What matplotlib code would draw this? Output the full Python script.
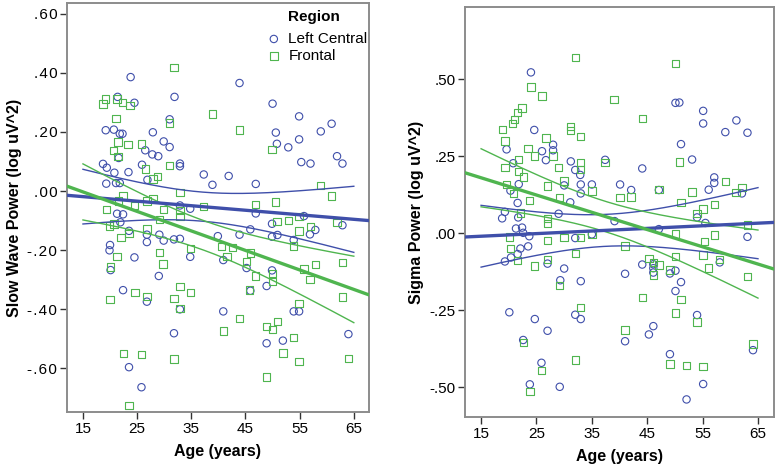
import numpy as np
import matplotlib
matplotlib.use("Agg")
import matplotlib.pyplot as plt

plt.rcParams['font.family'] = ['Liberation Sans', 'DejaVu Sans']

# ---- left panel: slow wave power, (age, value) ----
sw_lc_age = [23.8, 43.9, 31.9, 21.4, 24.5, 50.0, 31.0, 54.9, 19.2, 20.7, 21.8, 22.3, 27.9, 50.6, 58.9,
             60.9, 29.9, 31.0, 50.8, 52.9, 54.9, 26.5, 27.8, 28.9, 21.6, 18.7, 19.4, 20.8, 23.4, 25.9,
             32.9, 32.9, 61.9, 62.9, 55.3, 57.0, 19.3, 21.1, 21.8, 26.9, 37.3, 38.9, 41.9, 46.9,
             21.3, 22.4, 21.9, 32.9, 34.8, 46.9, 55.8, 49.9, 62.9, 45.9, 57.9, 56.9, 23.5, 26.8, 29.1,
             39.9, 43.9, 49.9, 50.9, 53.9, 26.8, 29.9, 31.8, 32.9, 20.0, 19.9, 20.1, 24.5, 34.8, 29.0,
             40.9, 45.2, 49.9, 48.9, 45.9, 22.4, 26.8, 32.9, 40.9, 53.9, 54.9, 31.8, 48.9, 51.9, 64.0,
             23.5, 25.8]
sw_lc_val = [0.386, 0.366, 0.319, 0.319, 0.299, 0.296, 0.243, 0.253, 0.206, 0.208, 0.194, 0.194, 0.199, 0.198, 0.202,
             0.228, 0.168, 0.149, 0.160, 0.148, 0.175, 0.138, 0.124, 0.118, 0.112, 0.092, 0.079, 0.062, 0.064, 0.089,
             0.093, 0.084, 0.118, 0.093, 0.098, 0.093, 0.025, 0.027, 0.027, 0.038, 0.056, 0.021, 0.051, 0.024,
             -0.077, -0.079, -0.106, -0.049, -0.060, -0.076, -0.085, -0.111, -0.116, -0.130, -0.132, -0.147, -0.135, -0.148, -0.148,
             -0.153, -0.148, -0.155, -0.149, -0.166, -0.173, -0.168, -0.164, -0.162, -0.183, -0.201, -0.268, -0.225, -0.223, -0.288,
             -0.234, -0.261, -0.269, -0.322, -0.338, -0.336, -0.375, -0.401, -0.408, -0.408, -0.408, -0.482, -0.516, -0.507, -0.485,
             -0.597, -0.665]

sw_fr_age = [31.8, 18.7, 19.2, 21.3, 22.3, 23.7, 21.1, 31.0, 38.9, 43.9, 21.5, 23.3, 25.8, 20.6, 21.5,
             31.0, 26.6, 28.8, 27.9, 49.9, 32.9, 22.4, 21.6, 24.5, 27.9, 26.8, 19.3, 29.9, 37.2, 32.9,
             46.9, 50.6, 58.9, 60.9, 32.9, 29.1, 50.8, 52.9, 54.9, 61.9, 54.9, 57.0, 19.9, 20.7, 23.5,
             26.8, 22.0,
             21.3, 20.1, 29.1, 29.8, 32.9, 34.8, 34.8, 31.8, 26.8, 24.6, 20.0, 32.9, 40.6, 42.6, 41.6,
             45.2, 45.9, 46.9, 45.8, 50.0, 50.0, 53.9, 55.8, 56.9, 57.9, 54.9, 62.9, 62.9, 43.9, 50.9,
             41.0, 48.9, 50.0, 53.9, 51.9, 54.9, 64.0, 48.9, 22.5, 25.8, 31.8, 23.5]
sw_fr_val = [0.418, 0.295, 0.312, 0.312, 0.301, 0.289, 0.246, 0.230, 0.261, 0.207, 0.166, 0.158, 0.159, 0.137, 0.116,
             0.087, 0.074, 0.050, 0.041, 0.141, -0.004, -0.017, -0.034, -0.050, -0.026, -0.034, -0.062, -0.062, -0.053, -0.065,
             -0.045, -0.037, 0.019, -0.017, -0.087, -0.096, -0.103, -0.099, -0.086, -0.107, -0.136, -0.120, -0.118, -0.112, -0.143,
             -0.129, -0.157,
             -0.223, -0.257, -0.209, -0.247, -0.324, -0.194, -0.343, -0.365, -0.358, -0.345, -0.367, -0.399, -0.188, -0.192, -0.221,
             -0.238, -0.210, -0.288, -0.335, -0.280, -0.306, -0.186, -0.264, -0.299, -0.248, -0.382, -0.243, -0.359, -0.433, -0.442,
             -0.474, -0.459, -0.470, -0.497, -0.549, -0.578, -0.567, -0.630, -0.550, -0.554, -0.569, -0.726]

# ---- right panel: sigma power ----
sg_lc_age = [24.0, 24.6, 19.6, 28.0, 28.0, 26.0, 26.7, 20.8, 31.2, 32.0, 32.9, 37.4, 30.0, 33.0, 35.0,
             33.0, 20.3, 21.8, 21.6, 31.1, 19.3, 18.8, 21.7, 29.0, 21.3, 22.4, 22.6, 23.7, 32.0, 35.0, 39.1,
             50.1, 50.8, 55.1, 55.1, 61.1, 59.1, 63.1, 51.1, 53.1, 44.1, 40.1, 42.1, 47.1, 57.1, 57.1,
             56.1, 62.1, 54.0, 55.5, 47.1, 63.1,
             22.1, 23.5, 21.6, 20.4, 19.3, 27.0, 30.0, 29.3, 33.0, 20.1, 24.7, 32.0, 33.0, 27.0, 22.6,
             25.9, 23.8, 29.2,
             44.1, 41.0, 46.1, 46.1, 46.1, 49.1, 50.1, 51.1, 50.1, 58.1, 54.0, 46.1, 45.3, 41.0, 49.1,
             55.1, 52.1, 64.1]
sg_lc_val = [0.522, 0.335, 0.272, 0.287, 0.269, 0.266, 0.237, 0.227, 0.233, 0.205, 0.189, 0.238, 0.155, 0.158, 0.158,
             0.129, 0.138, 0.159, 0.098, 0.100, 0.069, 0.048, 0.051, 0.063, 0.015, 0.018, 0.001, -0.010, -0.016, -0.004, 0.039,
             0.423, 0.424, 0.397, 0.356, 0.366, 0.328, 0.326, 0.289, 0.239, 0.210, 0.158, 0.140, 0.140, 0.181, 0.163,
             0.141, 0.129, 0.051, 0.033, 0.013, -0.012,
             -0.050, -0.043, -0.068, -0.079, -0.092, -0.099, -0.115, -0.153, -0.156, -0.257, -0.279, -0.265, -0.279, -0.317, -0.347,
             -0.421, -0.491, -0.499,
             -0.102, -0.132, -0.101, -0.114, -0.128, -0.131, -0.122, -0.159, -0.188, -0.095, -0.266, -0.302, -0.329, -0.351, -0.393,
             -0.490, -0.540, -0.380]

sg_fr_age = [32.0, 24.0, 26.0, 39.0, 22.4, 21.6, 21.0, 20.7, 18.9, 19.3, 31.2, 31.2, 33.0, 26.7, 23.5,
             24.6, 28.0, 21.7, 33.0, 33.0, 19.3, 21.7, 29.0, 22.6, 19.6, 20.8, 27.0, 30.0, 35.0, 23.7,
             29.1, 22.1, 27.0, 27.0, 30.0, 33.0, 35.0, 20.1, 20.3, 21.6, 27.0, 32.0, 24.7, 27.0, 29.2,
             33.0, 22.6, 32.0, 25.9, 23.8,
             50.1, 44.1, 37.4, 50.8, 40.1, 42.1, 47.1, 53.1, 51.1, 57.1, 59.1, 61.0, 62.1, 54.0, 55.1,
             63.1, 50.1, 57.1,
             41.0, 55.4, 55.1, 50.1, 58.1, 45.3, 46.1, 47.1, 46.1, 49.1, 56.1, 63.1, 44.1, 51.1, 50.1,
             54.0, 41.0, 49.1, 52.1, 55.1, 64.1]
sg_fr_val = [0.571, 0.475, 0.445, 0.434, 0.406, 0.392, 0.370, 0.356, 0.337, 0.299, 0.346, 0.334, 0.313, 0.309, 0.275,
             0.251, 0.251, 0.240, 0.230, 0.207, 0.213, 0.201, 0.214, 0.182, 0.157, 0.129, 0.153, 0.169, 0.137, 0.105,
             0.116, 0.065, 0.048, 0.031, -0.014, -0.014, -0.004, -0.013, -0.050, -0.089, -0.023, -0.066, -0.107, -0.085, -0.169,
             -0.241, -0.356, -0.412, -0.447, -0.514,
             0.550, 0.373, 0.230, 0.231, 0.115, 0.117, 0.141, 0.134, 0.100, 0.093, 0.167, 0.131, 0.148, 0.064, 0.078,
             0.026, -0.003, -0.006,
             -0.042, -0.028, -0.071, -0.075, -0.085, -0.083, -0.095, -0.104, -0.136, -0.120, -0.113, -0.140, -0.209, -0.215, -0.259,
             -0.289, -0.315, -0.425, -0.430, -0.434, -0.360]

sw_ticks = [0.6, 0.4, 0.2, 0.0, -0.2, -0.4, -0.6]
sw_ticklabels = ['.60', '.40', '.20', '.00', '-.20', '-.40', '-.60']
sg_ticks = [0.5, 0.25, 0.0, -0.25, -0.5]
sg_ticklabels = ['.50', '.25', '.00', '-.25', '-.50']
age_ticks = [15, 25, 35, 45, 55, 65]

blue = '#3f4faa'
green = '#4fb54f'
spine_c = '#8c8c8c'


def fit_with_ci(ax, x, y, color, xfull, xci):
    # OLS line plus 95% CI of the mean
    x = np.asarray(x)
    y = np.asarray(y)
    n = len(x)
    b, a = np.polyfit(x, y, 1)
    resid = y - (a + b * x)
    s = np.sqrt(np.sum(resid ** 2) / (n - 2))
    sxx = np.sum((x - x.mean()) ** 2)
    t = 1.99
    xx = np.linspace(xci[0], xci[1], 200)
    half = t * s * np.sqrt(1.0 / n + (xx - x.mean()) ** 2 / sxx)
    ax.plot(xx, a + b * xx + half, color=color, lw=1.0, zorder=3)
    ax.plot(xx, a + b * xx - half, color=color, lw=1.0, zorder=3)
    ax.plot(xfull, a + b * np.asarray(xfull), color=color, lw=2.4, zorder=4)


def style_axes(ax, xlim, ylim, yticks, ylabels, ylabel, sp):
    ax.set_xlim(*xlim)
    ax.set_ylim(*ylim)
    ax.set_xticks(age_ticks)
    ax.set_yticks(yticks)
    # SPSS draws the y tick labels a bit letter-spaced
    ax.set_yticklabels([sp.join(lab) for lab in ylabels])
    for s in ax.spines.values():
        s.set_color(spine_c)
        s.set_linewidth(1.4)
    ax.tick_params(direction='out', length=5, width=1.0, color='#333333', labelsize=11, pad=2)
    ax.set_xlabel('Age (years)', fontsize=11.5, fontweight='bold', labelpad=6)
    ax.set_ylabel(ylabel, fontsize=11.5, fontweight='bold', labelpad=4)


fig = plt.figure(figsize=(7.77, 4.69), dpi=100)
ax1 = fig.add_axes([0.0862, 0.1215, 0.3887, 0.872])
ax2 = fig.add_axes([0.5985, 0.1109, 0.3977, 0.874])

for ax, lc_a, lc_v, fr_a, fr_v, xlim in [
        (ax1, sw_lc_age, sw_lc_val, sw_fr_age, sw_fr_val, (12.05, 67.8)),
        (ax2, sg_lc_age, sg_lc_val, sg_fr_age, sg_fr_val, (12.1, 67.9))]:
    ax.scatter(lc_a, lc_v, s=28, marker='o', facecolors='none', edgecolors=blue,
               linewidths=0.8, zorder=2, label='Left Central')
    ax.scatter(fr_a, fr_v, s=28, marker='s', facecolors='none', edgecolors=green,
               linewidths=0.8, zorder=2, label='Frontal')
    fit_with_ci(ax, lc_a, lc_v, blue, xlim, (15, 65))
    fit_with_ci(ax, fr_a, fr_v, green, xlim, (15, 65))

style_axes(ax1, (12.05, 67.8), (-0.749, 0.637), sw_ticks, sw_ticklabels,
           'Slow Wave Power (log uV^2)', '\u200a')
style_axes(ax2, (12.1, 67.9), (-0.597, 0.734), sg_ticks, sg_ticklabels,
           'Sigma Power (log uV^2)', '')

leg = ax1.legend(loc='upper right', bbox_to_anchor=(1.0, 0.933), frameon=False, fontsize=11,
                 handletextpad=0.35, borderaxespad=0.0, borderpad=0.1,
                 labelspacing=0.2, handlelength=1.2)

# legend title placed over the labels, as SPSS does
fig.canvas.draw()
bb = leg.get_texts()[0].get_window_extent()
fig.text(bb.x0 / fig.bbox.width, 1 - 17 / 469, 'Region', fontsize=11, fontweight='bold', va='center')

fig.savefig('out.png', dpi=100)
